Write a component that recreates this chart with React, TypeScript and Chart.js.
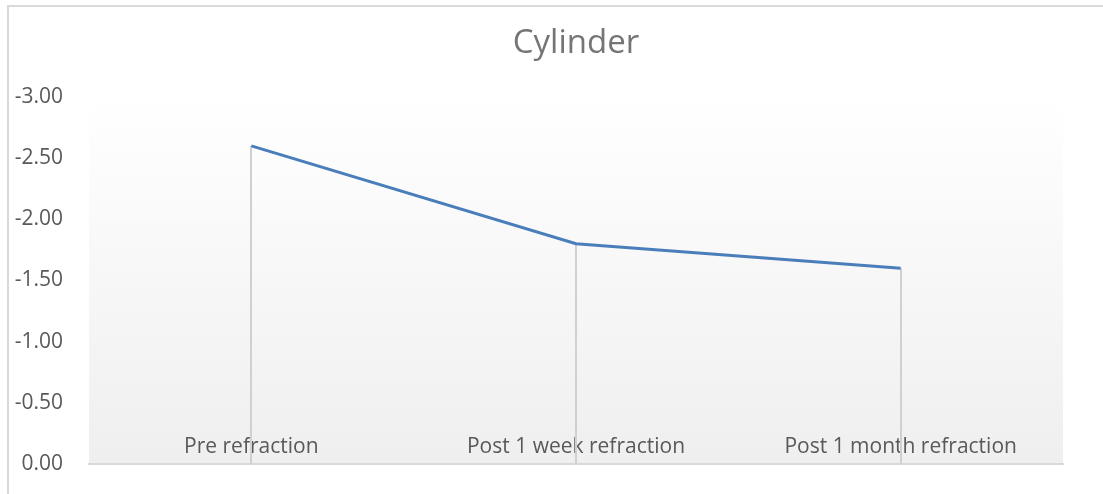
import React, { useEffect, useRef } from "react";
import { Chart, registerables } from "chart.js";

Chart.register(...registerables);

const TITLE = "Cylinder";
const CATEGORIES = ["Pre refraction", "Post 1 week refraction", "Post 1 month refraction"];
const CYLINDER_VALUES = [-2.6, -1.8, -1.6];
const Y_MIN = -3;
const Y_MAX = 0;
const Y_STEP = 0.5;

const FONT = "'Open Sans', 'Noto Sans', sans-serif";

const decorPlugin = {
  id: "decor",
  beforeDraw(chart: any) {
    const { ctx, chartArea } = chart;
    ctx.save();
    const g = ctx.createLinearGradient(0, chartArea.top, 0, chartArea.bottom);
    g.addColorStop(0, "#ffffff");
    g.addColorStop(1, "#efefef");
    ctx.fillStyle = g;
    ctx.fillRect(chartArea.left, chartArea.top, chartArea.right - chartArea.left, chartArea.bottom - chartArea.top);
    ctx.strokeStyle = "#d9d9d9";
    ctx.lineWidth = 2;
    ctx.beginPath();
    ctx.moveTo(8, chart.height + 2);
    ctx.lineTo(8, 6);
    ctx.lineTo(chart.width + 2, 6);
    ctx.stroke();
    // title centred over the plot area
    ctx.fillStyle = "#757575";
    ctx.font = "33px " + FONT;
    ctx.textAlign = "center";
    ctx.textBaseline = "middle";
    ctx.fillText(TITLE, (chartArea.left + chartArea.right) / 2, 44);
    ctx.restore();
  },
  beforeDatasetsDraw(chart: any) {
    const { ctx, chartArea } = chart;
    const meta = chart.getDatasetMeta(0);
    ctx.save();
    ctx.strokeStyle = "#d0d0d0";
    ctx.lineWidth = 2;
    meta.data.forEach((pt: any) => {
      ctx.beginPath();
      ctx.moveTo(Math.round(pt.x), pt.y);
      ctx.lineTo(Math.round(pt.x), chartArea.bottom);
      ctx.stroke();
    });
    ctx.restore();
  },
};

export default function App() {
  const ref = useRef<HTMLCanvasElement | null>(null);
  useEffect(() => {
    if (!ref.current) return;
    const chart = new Chart(ref.current, {
      type: "line",
      data: {
        labels: CATEGORIES,
        datasets: [
          {
            label: TITLE,
            data: CYLINDER_VALUES,
            borderColor: "#4a7ebb",
            borderWidth: 3,
            pointRadius: 0,
            tension: 0,
            fill: false,
          },
        ],
      },
      options: {
        animation: false,
        responsive: true,
        maintainAspectRatio: false,
        layout: { padding: { left: 0, right: 40, top: 97, bottom: 0 } },
        plugins: {
          legend: { display: false },
          tooltip: { enabled: false },
          title: { display: false },
        },
        scales: {
          x: {
            offset: true,
            grid: { display: true, drawOnChartArea: false, drawTicks: false },
            border: { display: true, color: "#d9d9d9", width: 2 },
            ticks: {
              color: "#595959",
              font: { family: FONT, size: 21 },
              mirror: true,
              padding: 4,
              maxRotation: 0,
              autoSkip: false,
            },
            afterFit(scale: any) {
              scale.height = 30;
            },
          },
          y: {
            reverse: true,
            min: Y_MIN,
            max: Y_MAX,
            grid: {
              display: true,
              drawOnChartArea: false,
              drawTicks: true,
              tickLength: 26,
              color: "rgba(0,0,0,0)",
            },
            border: { display: false },
            ticks: {
              stepSize: Y_STEP,
              color: "#595959",
              font: { family: FONT, size: 21 },
              padding: 0,
              callback: (v: any) => Number(v).toFixed(2),
            },
            afterFit(scale: any) {
              scale.width = 89;
            },
          },
        },
      },
      plugins: [decorPlugin],
    });
    return () => chart.destroy();
  }, []);
  return (
    <div style={{ position: "fixed", left: 0, top: 0, width: 1103, height: 494, background: "#ffffff" }}>
      <canvas ref={ref} />
    </div>
  );
}
